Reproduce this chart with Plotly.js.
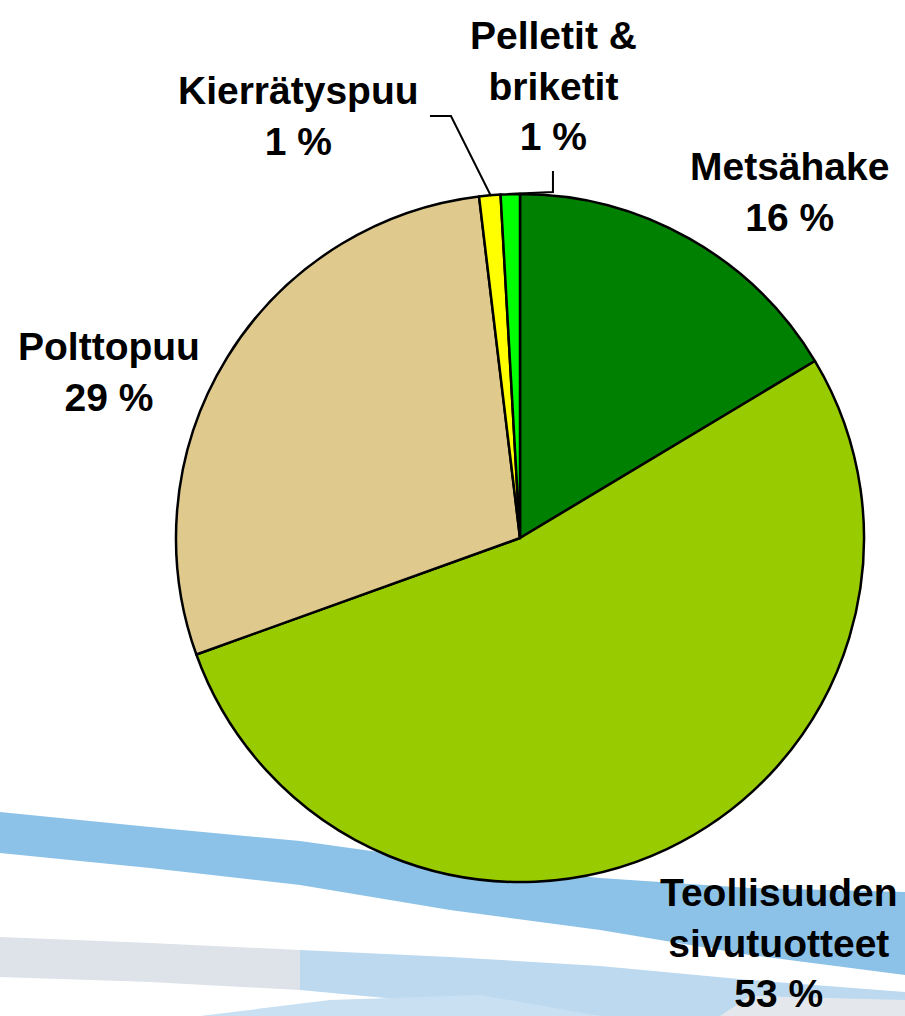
<!DOCTYPE html>
<html>
<head>
<meta charset="utf-8">
<script src="https://cdn.plot.ly/plotly-3.0.1.min.js"></script>
<style>
  body { margin: 0; background: #fff; }
  #Grafico { width: 905px; height: 1016px; }
</style>
</head>
<body>
<div id="Grafico"></div>
<script>
let osuudet = ['Metsähake', 'Teollisuuden<br>sivutuotteet', 'Polttopuu', 'Kierrätyspuu', 'Pelletit &<br>briketit'];
let arvot = [16.4, 53.1, 28.6, 1.0, 0.9];
let varit = ['#008000', '#99CC00', '#DFC98C', '#FFFF00', '#00FF00'];

// label block centres in pixels (x, y from top)
let paikat = [[789, 192], [779, 943], [109, 372], [298, 116], [553, 86]];

const W = 905, H = 1016;
let px = x => x / W;
let py = y => 1 - y / H;

let kiekko = {
	type: 'pie',
	labels: osuudet,
	values: arvot,
	sort: false,
	direction: 'clockwise',
	rotation: 0,
	textinfo: 'none',
	hoverinfo: 'label+percent',
	marker: { colors: varit, line: { color: '#000', width: 2.5 } },
	domain: { x: [px(520 - 344), px(520 + 344)], y: [py(538 + 344), py(538 - 344)] },
	showlegend: false
};

let merkinnat = osuudet.map((nimi, i) => ({
	xref: 'paper', yref: 'paper',
	x: px(paikat[i][0]), y: py(paikat[i][1]),
	xanchor: 'center', yanchor: 'middle',
	text: '<b>' + nimi + '<br>' + Math.round(arvot[i]) + ' %</b>',
	showarrow: false,
	align: 'center',
	font: { family: 'Liberation Sans, Arial, sans-serif', size: 39, color: '#000' }
}));

// path helpers in pixel coordinates
let polku = pts => pts.map((p, i) => (i ? 'L' : 'M') + px(p[0]).toFixed(4) + ',' + py(p[1]).toFixed(4)).join(' ');
let alue = pts => polku(pts) + ' Z';
let tausta = (vari, pts) => ({ type: 'path', xref: 'paper', yref: 'paper', layer: 'below', line: { width: 0 }, fillcolor: vari, path: alue(pts) });

let muodot = [
	// background swooshes
	tausta('#8CC2E8', [[0, 812], [150, 827], [300, 841], [450, 862], [600, 878], [750, 888], [905, 892],
		[905, 975], [750, 955], [600, 930], [450, 910], [300, 885], [150, 868], [0, 853]]),
	tausta('#DDE3E8', [[0, 937], [150, 943], [300, 950], [300, 990], [150, 982], [0, 977]]),
	tausta('#BCD9EF', [[300, 950], [450, 957], [600, 966], [750, 980], [905, 992],
		[905, 1016], [600, 1016], [450, 1004], [300, 990]]),
	tausta('#C9E0F2', [[200, 1016], [330, 1000], [480, 995], [600, 1016]]),
	tausta('#E4E8EC', [[750, 996], [905, 1000], [905, 1016], [720, 1016]]),
	// leader lines
	{ type: 'path', xref: 'paper', yref: 'paper', line: { color: '#000', width: 2 },
	  path: polku([[430, 116], [451, 116], [491, 196]]) },
	{ type: 'path', xref: 'paper', yref: 'paper', line: { color: '#000', width: 2 },
	  path: polku([[553, 171], [553, 192], [508, 194]]) }
];

let layout = {
	width: W, height: H,
	margin: { l: 0, r: 0, t: 0, b: 0 },
	paper_bgcolor: 'rgba(0,0,0,0)',
	plot_bgcolor: 'rgba(0,0,0,0)',
	annotations: merkinnat,
	shapes: muodot
};

let contenedor = document.getElementById('Grafico');
Plotly.newPlot(contenedor, [kiekko], layout, { displayModeBar: false });
</script>
</body>
</html>
